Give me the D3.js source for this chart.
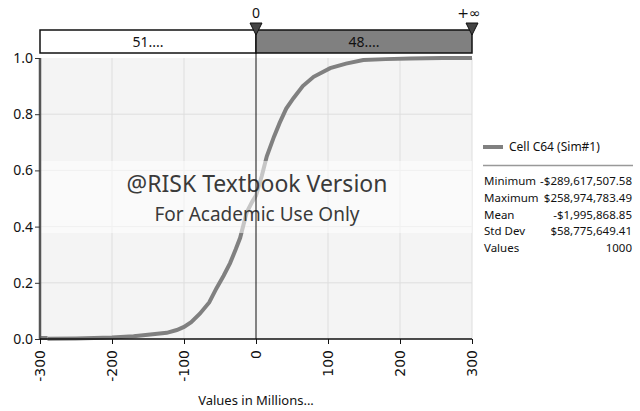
<!DOCTYPE html>
<html><head><meta charset="utf-8">
<script src="https://cdn.jsdelivr.net/npm/d3@7"></script>
<style>
body{margin:0;background:#fff;}
text{font-family:"Noto Sans",sans-serif;}
</style></head>
<body><svg id="c" width="640" height="411"></svg>
<script>
// CDF data (values in millions, cumulative probability)
const cdfX = [-289.6,-250,-200,-170,-150,-124,-110,-100,-90,-78,-65,-55,-45,-36,-28,-22,-13,-5,0,8,15,25,33,42,52,65,80,103,125,149,180,214,259,300];
const cdfP = [0.001,0.002,0.005,0.01,0.015,0.022,0.032,0.043,0.06,0.09,0.13,0.18,0.225,0.27,0.32,0.36,0.45,0.49,0.51,0.58,0.65,0.72,0.77,0.82,0.857,0.90,0.933,0.964,0.98,0.993,0.996,0.998,1.0,1.0];
const xTicks = [-300,-200,-100,0,100,200,300];
const yTicks = [0,0.2,0.4,0.6,0.8,1.0];
const markers = [0, 300];
const markerLabels = ["0","+\u221E"];
const regionLabels = ["51....","48...."];
const seriesName = "Cell C64 (Sim#1)";
const statNames = ["Minimum","Maximum","Mean","Std Dev","Values"];
const statValues = ["-$289,617,507.58","$258,974,783.49","-$1,995,868.85","$58,775,649.41","1000"];
const xTitle = "Values in Millions...";
const wm1 = "@RISK Textbook Version", wm2 = "For Academic Use Only";

const svg = d3.select("#c");
const L=40,R=472,T=58,B=339;
const x = d3.scaleLinear().domain([-300,300]).range([L,R]);
const y = d3.scaleLinear().domain([0,1]).range([B,T]);

svg.append("rect").attr("x",L).attr("y",T).attr("width",R-L).attr("height",B-T).attr("fill","#f4f4f4");
// grid
svg.append("g").selectAll("line").data(xTicks.filter(d=>d!==-300&&d!==0)).join("line")
 .attr("x1",d=>x(d)).attr("x2",d=>x(d)).attr("y1",T).attr("y2",B).attr("stroke","#dedede").attr("stroke-width",1);
svg.append("g").selectAll("line").data(yTicks.filter(d=>d>0&&d<1)).join("line")
 .attr("x1",L).attr("x2",R).attr("y1",d=>y(d)).attr("y2",d=>y(d)).attr("stroke","#dedede").attr("stroke-width",1);

// curve
const pts = cdfX.map((v,i)=>[v,cdfP[i]]);
svg.append("path").datum(pts).attr("fill","none").attr("stroke","#808080").attr("stroke-width",4)
 .attr("d",d3.line().x(d=>x(d[0])).y(d=>y(d[1])));
svg.append("line").attr("x1",x(-300)).attr("x2",x(cdfX[0])).attr("y1",y(0)-1).attr("y2",y(0)-1).attr("stroke","#808080").attr("stroke-width",4);

// watermark band
svg.append("rect").attr("x",L).attr("y",161).attr("width",R-L).attr("height",72).attr("fill","#fff").attr("opacity",0.55);
svg.append("text").attr("x",x(0)+1).attr("y",192).attr("text-anchor","middle").attr("font-size",23).attr("fill","#3a3a3a").text(wm1);
svg.append("text").attr("x",x(0)+1).attr("y",221).attr("text-anchor","middle").attr("font-size",19).attr("fill","#3a3a3a").text(wm2);

// axes
const fmtX = d => String(d);
const yAx = svg.append("g").attr("transform",`translate(${L},0)`).call(d3.axisLeft(y).tickValues(yTicks).tickFormat(d3.format(".1f")).tickSize(5));
yAx.select(".domain").attr("stroke","#555").attr("stroke-width",2.5).attr("d",`M0,${T}V${B}`);
yAx.selectAll("text").attr("font-size",14).attr("fill","#111").attr("x",-7).style("font-family","'Noto Sans',sans-serif");
yAx.selectAll(".tick line").attr("stroke","#333");
const xAx = svg.append("g").attr("transform",`translate(0,${B})`).call(d3.axisBottom(x).tickValues(xTicks).tickFormat(fmtX).tickSize(5));
xAx.select(".domain").attr("stroke","#111").attr("stroke-width",1.5).attr("d",`M${L},0H${R}`);
xAx.selectAll(".tick line").attr("stroke","#111");
xAx.selectAll("text").style("font-family","'DejaVu Sans',sans-serif").attr("font-size",14).attr("fill","#111")
 .attr("transform","rotate(-90)").attr("text-anchor","end").attr("x",-11).attr("y",0).attr("dy","0.35em");
svg.append("text").attr("x",x(0)).attr("y",405).attr("text-anchor","middle").attr("font-size",13).attr("fill","#111").text(xTitle);

// vertical marker line
svg.append("line").attr("x1",x(0)).attr("x2",x(0)).attr("y1",35).attr("y2",B).attr("stroke","#111").attr("stroke-width",1);

// top bar
const regions = [[-300,0],[0,300]];
svg.append("g").selectAll("rect").data(regions).join("rect")
 .attr("x",d=>x(d[0])).attr("y",30).attr("width",d=>x(d[1])-x(d[0])).attr("height",23)
 .attr("fill",(d,i)=>i===0?"#fff":"#808080").attr("stroke","#111").attr("stroke-width",1.5);
svg.append("g").selectAll("text").data(regions).join("text")
 .attr("x",d=>(x(d[0])+x(d[1]))/2).attr("y",47).attr("text-anchor","middle").attr("font-size",14).attr("fill","#111")
 .text((d,i)=>regionLabels[i]);
// markers
svg.append("g").selectAll("path").data(markers).join("path")
 .attr("d",d=>`M${x(d)-6},23L${x(d)+6},23L${x(d)},35Z`).attr("fill","#444").attr("stroke","#111").attr("stroke-width",1);
svg.append("g").selectAll("text").data(markers).join("text")
 .attr("x",(d,i)=>x(d)-(i===1?3:0)).attr("y",18).attr("text-anchor","middle").attr("font-size",14).attr("fill","#111")
 .style("font-family",(d,i)=>i===1?"'DejaVu Sans',sans-serif":null)
 .text((d,i)=>markerLabels[i]);

// legend
svg.append("line").attr("x1",483).attr("x2",503).attr("y1",147).attr("y2",147).attr("stroke","#808080").attr("stroke-width",4);
svg.append("text").attr("x",509).attr("y",151).attr("font-size",12).attr("fill","#111").text(seriesName);
svg.append("line").attr("x1",483).attr("x2",633).attr("y1",165.5).attr("y2",165.5).attr("stroke","#999").attr("stroke-width",1.5);
const rows = svg.append("g").selectAll("g").data(statNames).join("g").attr("transform",(d,i)=>`translate(0,${185+i*16.8})`);
rows.append("text").attr("x",484).attr("font-size",11.5).attr("fill","#111").text(d=>d);
rows.append("text").attr("x",632).attr("text-anchor","end").attr("font-size",11.5).attr("fill","#111").text((d,i)=>statValues[i]);
</script></body></html>
